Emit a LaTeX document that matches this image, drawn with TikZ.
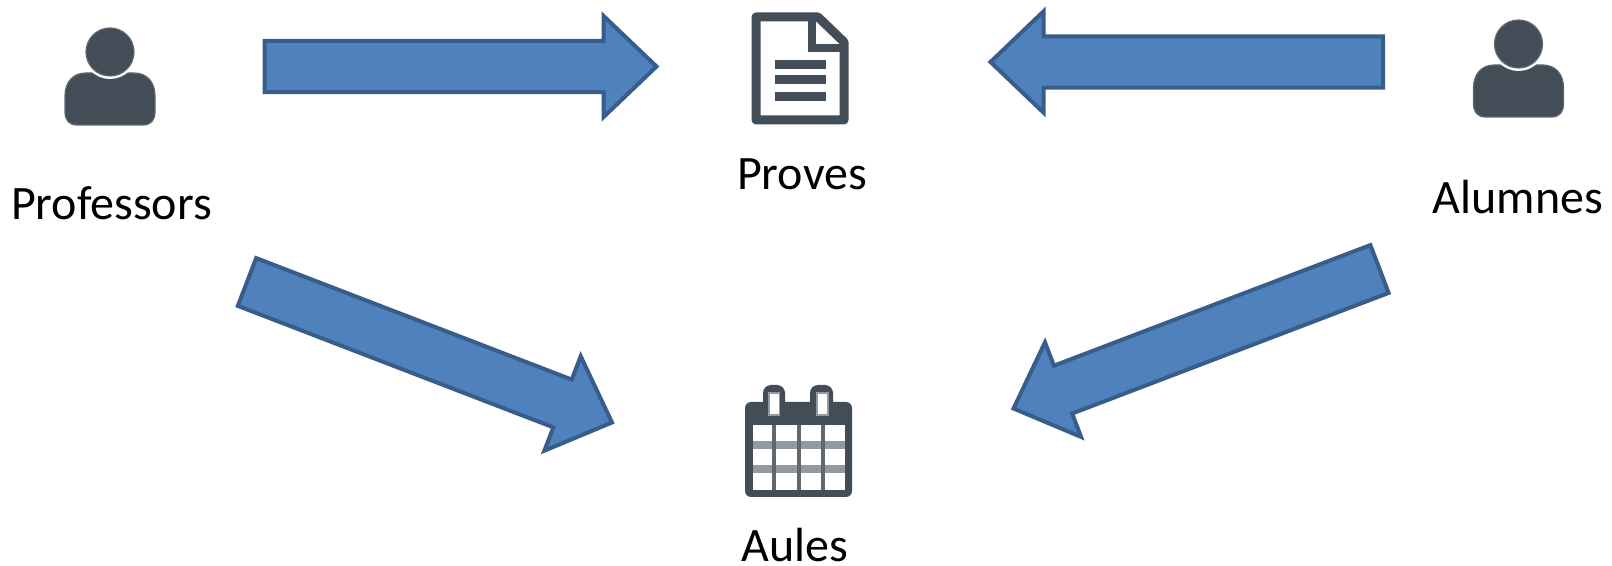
\documentclass[tikz,border=0pt]{standalone}
\usepackage{fontspec}
\setmainfont{Carlito}
\usetikzlibrary{calc}

\definecolor{icona}{HTML}{434D58}
\definecolor{reixa}{HTML}{929AA1}
\definecolor{fletxaomple}{HTML}{4F81BD}
\definecolor{fletxavora}{HTML}{385D8A}

\tikzset{
    fletxa/.style={draw=fletxavora, fill=fletxaomple, line width=2pt, miter limit=10},
    etiqueta/.style={anchor=base, inner sep=0pt, font=\fontsize{24}{28}\selectfont},
    persona/.pic={
        \fill[icona, draw=icona!85!white, line width=0.6pt] (-45,60) -- (-45,44) .. controls (-45,30) and (-37,21) .. (-24,21)
            -- (24,21) .. controls (37,21) and (45,30) .. (45,44) -- (45,60)
            .. controls (45,68) and (41,73) .. (33,73) -- (-33,73)
            .. controls (-41,73) and (-45,68) .. (-45,60) -- cycle;
        \fill[white] (0,0) circle (27);
        \fill[icona, draw=icona!85!white, line width=0.6pt] (0,0) circle (24);
    },
    document/.pic={
        \draw[icona, line width=4.5pt, line join=round, fill=white] (-44,-51) -- (18,-51) -- (44,-26) -- (44,52) -- (-44,52) -- cycle;
        \draw[icona, line width=4pt] (12,-51) -- (12,-20) -- (44,-20);
        \draw[icona, line width=4.5pt] (-25,-3.5) -- (26,-3.5);
        \draw[icona, line width=4.5pt] (-25,12) -- (26,12);
        \draw[icona, line width=4.5pt] (-25,29) -- (26,29);
    },
    calendari/.pic={
        \fill[icona, rounded corners=3pt] (-54,-39) rectangle (53,56);
        \fill[white] (-46,-16) rectangle (46,49);
        \draw[reixa, line width=4pt] (-46,4) -- (46,4);
        \draw[reixa, line width=4pt] (-46,28) -- (46,28);
        \foreach \x in {-25,0,24}
            \draw[icona!85!white, line width=2pt] (\x,-16) -- (\x,49);
        \fill[icona, rounded corners=4pt] (-36,-30) rectangle (-14,-56);
        \fill[icona, rounded corners=4pt] (11,-30) rectangle (34,-56);
        \draw[reixa, fill=white, line width=0.8pt] (-30,-48) rectangle (-19.5,-26);
        \draw[reixa, fill=white, line width=0.8pt] (18,-48) rectangle (29,-26);
    }
}

% block arrow between two named points
\newcommand{\fletxabloc}[2]{
    \coordinate (coll) at ($(#2)!26.5pt!(#1)$);
    \draw[fletxa] ($(#1)!12.8pt!90:(#2)$) -- ($(coll)!12.8pt!90:(#2)$) -- ($(coll)!25.3pt!90:(#2)$)
        -- (#2) -- ($(coll)!25.3pt!-90:(#2)$) -- ($(coll)!12.8pt!-90:(#2)$) -- ($(#1)!12.8pt!-90:(#2)$) -- cycle;
}

\begin{document}
\begin{tikzpicture}[x=0.5pt, y=-0.5pt]
    \useasboundingbox (0,0) rectangle (1612,566);

    % icons
    \pic (professors) at (110,52) {persona};
    \pic (alumnes) at (1518.5,44) {persona};
    \pic (proves) at (800,68) {document};
    \pic (aules) at (799,441) {calendari};

    % labels
    \node[etiqueta] (tprofessors) at (111.5,219.5) {Professors};
    \node[etiqueta] (tproves) at (802,189.5) {Proves};
    \node[etiqueta] (talumnes) at (1518,213.5) {Alumnes};
    \node[etiqueta] (taules) at (795,561) {Aules};

    % arrow ends
    \coordinate (a1) at (264.5,66.5);
    \coordinate (b1) at (656.5,66.5);
    \coordinate (a2) at (1383,62);
    \coordinate (b2) at (990.5,62);
    \coordinate (a3) at (247,282);
    \coordinate (b3) at (612,422.5);
    \coordinate (a4) at (1379.5,269);
    \coordinate (b4) at (1013.5,408.5);

    \fletxabloc{a1}{b1}
    \fletxabloc{a2}{b2}
    \fletxabloc{a3}{b3}
    \fletxabloc{a4}{b4}
\end{tikzpicture}
\end{document}
